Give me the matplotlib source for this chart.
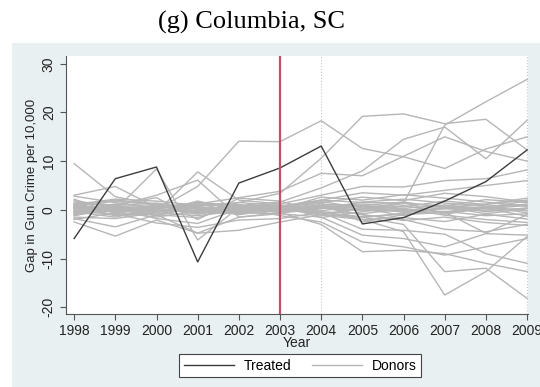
import matplotlib
matplotlib.use("Agg")
import matplotlib.pyplot as plt
from matplotlib.patches import Rectangle

plt.rcParams['font.family'] = ['Liberation Sans', 'DejaVu Sans']

years = list(range(1998, 2010))
treatment_year = 2003
dotted_years = [2004, 2009]

treated = [-5.9, 6.4, 8.8, -10.7, 5.5, 8.6, 13.1, -2.9, -1.6, 1.8, 5.8, 12.3]

# donor gaps
donors = [
    [0.5, -0.3, 0.8, -0.6, 0.2, 0.4, 0.9, 1.2, 0.6, 1.8, 1.1, 2.0],
    [-0.8, 0.4, -0.2, 0.3, -0.5, -0.1, -0.6, -1.4, -0.9, -0.3, -1.2, -0.8],
    [1.6, 0.9, 1.4, 0.2, 0.7, -0.3, 0.5, 0.0, 1.3, 0.8, 2.1, 1.5],
    [-1.5, -1.8, -0.6, -1.2, -0.2, 0.3, -1.1, -2.0, -1.6, -2.4, -0.9, -1.9],
    [0.2, 1.2, 0.6, 1.0, 0.9, 0.6, 1.7, 0.4, -0.5, 0.3, 0.6, -0.2],
    [2.8, 1.5, 0.3, -0.8, 0.4, -0.6, 0.2, 1.6, 2.2, 1.4, 0.8, 1.0],
    [-0.3, -0.9, 1.1, 0.5, -1.0, 0.2, 2.6, 2.0, 3.1, 2.4, 1.6, 0.7],
    [0.9, 0.1, -1.0, -1.6, 0.8, 1.0, -0.4, -0.8, 0.2, -1.1, -2.0, -2.6],
    [-2.0, -0.6, 0.2, 1.3, -0.6, -0.8, 1.2, 0.6, -0.3, 0.9, -0.4, 0.4],
    [1.1, 2.2, 1.8, 0.9, 1.5, 0.9, -1.6, -0.4, 0.9, -0.6, 0.3, -1.3],
    [0.0, -0.2, -0.4, -0.1, 0.1, 0.1, 0.4, -0.2, -0.2, 0.2, -0.1, 0.3],
    [-0.6, 0.7, 0.4, -0.9, 0.3, -0.4, -0.2, 0.9, 0.3, 1.0, 0.2, 0.9],
    [0.4, -1.2, -0.9, 0.7, -0.3, 0.2, 0.6, -1.0, -2.2, -1.5, -2.6, -3.2],
    [-1.1, 0.2, 0.9, 0.1, 0.6, -0.2, 1.5, 2.6, 1.9, 3.4, 2.7, 1.6],
    [1.9, 0.6, -0.5, 1.8, -0.1, 0.5, -0.9, 0.3, -1.2, 0.5, 1.2, 2.4],
    [-0.2, 0.5, 0.1, -0.4, -0.8, 0.0, 0.3, 0.8, 0.1, -0.4, 0.6, -0.6],
    [0.7, -0.5, -1.5, -0.2, 0.5, 0.7, -0.5, -1.6, -0.7, 0.6, -0.8, 0.2],
    [-0.9, -0.1, 0.5, 0.8, 1.1, -0.5, 0.8, 0.2, 1.5, -0.9, 0.4, 1.2],
    [9.5, 2.7, 1.0, -0.5, 0.4, -0.2, 0.6, 0.9, 1.6, 0.4, 0.5, 1.8],
    [3.0, 4.8, 0.5, 1.5, 0.9, 0.3, 2.0, 3.5, 3.0, 4.0, 5.0, 6.0],
    [-2.5, -5.4, -2.1, -4.8, -1.5, -0.8, -1.5, -5.2, -5.9, -7.6, -4.9, -5.2],
    [1.0, 0.0, 8.4, -6.2, 0.5, -1.2, -2.5, -6.6, -7.6, -9.3, -7.6, -5.9],
    [0.5, -1.0, -0.5, 7.8, 2.0, 1.2, 3.0, 4.8, 4.7, 6.0, 6.4, 8.2],
    [-0.5, 0.8, 3.0, 6.1, -1.5, -0.6, -3.0, -8.6, -8.3, -9.0, -11.0, -12.7],
    [2.2, -0.8, -2.7, -3.6, -2.1, -1.8, -0.5, -2.0, -4.5, -17.5, -12.7, -5.5],
    [-1.8, -3.5, -1.0, -4.8, -4.2, -2.5, -1.0, -1.5, -3.0, -12.7, -12.0, -18.2],
    [1.4, 1.0, 2.5, -2.0, 2.4, 1.8, -0.5, -4.0, -4.2, -5.0, -9.0, -11.0],
    [-1.2, 0.3, -1.8, -2.8, 0.2, 0.9, 0.5, -1.0, -2.0, -4.0, -4.5, -3.0],
    [0.8, 2.0, 1.2, 0.3, -0.9, 0.6, 1.4, -2.5, -1.0, -0.5, -4.8, -1.0],
    [0.3, 0.8, 0.0, 4.8, 14.1, 14.0, 18.3, 12.6, 10.9, 8.5, 12.5, 15.0],
    [1.2, -0.5, 0.8, -0.3, 1.5, 3.4, 10.6, 19.2, 19.7, 17.7, 18.6, 12.3],
    [-0.8, 0.4, -1.2, 0.6, -0.4, 0.8, 2.0, 1.5, 1.4, 17.4, 22.2, 26.8],
    [0.6, 1.8, 1.0, -0.5, 0.9, 1.6, 4.5, 8.0, 14.5, 17.0, 10.5, 18.4],
    [-0.4, -1.5, 0.3, 1.2, 2.5, 3.8, 7.5, 7.0, 11.0, 15.0, 12.0, 10.0],
]

fig = plt.figure(figsize=(5.4, 3.87), dpi=100)
fig.patch.set_facecolor('white')

# Stata-style light panel behind the graph
fig.patches.append(Rectangle((12 / 540, 0), 1, 1 - 43 / 387, transform=fig.transFigure,
                             facecolor='#e8f0f2', edgecolor='none', zorder=-5))

fig.text(252 / 540, 1 - 22 / 387, '(g) Columbia, SC', ha='center', va='center',
         fontsize=19, family=['Liberation Serif', 'DejaVu Serif'])

ax = fig.add_axes([65.5 / 540, 1 - 314 / 387, 462 / 540, 258 / 387])
ax.set_zorder(1)
ax.set_facecolor('white')

for d in donors:
    ax.plot(years, d, color='#b6b6b6', lw=1.0, zorder=2)
ax.plot(years, treated, color='#3c3c3c', lw=1.0, zorder=3)

ax.axvline(treatment_year, color='#c4506c', lw=1.6, zorder=4)
for yr in dotted_years:
    ax.axvline(yr, color='#c8c8c8', lw=0.8, ls=':', zorder=1)

ax.set_xlim(1997.79, 2009.01)
ax.set_ylim(-21.4, 31.6)
ax.set_xticks(years)
ax.set_yticks([-20, -10, 0, 10, 20, 30])
ax.set_yticklabels(['-20', '-10', '0', '10', '20', '30'], rotation=90, va='center')
ax.tick_params(axis='both', labelsize=10, length=4, width=0.8, pad=3,
               colors='#555555', labelcolor='#222222')

for s in ['top', 'right']:
    ax.spines[s].set_visible(False)
for s in ['left', 'bottom']:
    ax.spines[s].set_color('#555555')
    ax.spines[s].set_linewidth(0.8)

ax.set_xlabel('Year', fontsize=10, color='#222222', labelpad=-1)
ax.set_ylabel('Gap in Gun Crime per 10,000', fontsize=9.5, color='#222222', labelpad=3)

h1, = ax.plot([], [], color='#3c3c3c', lw=1.0)
h2, = ax.plot([], [], color='#b6b6b6', lw=1.0)
leg = fig.legend([h1, h2], ['Treated', 'Donors'], ncol=2, loc='center',
                 bbox_to_anchor=(300 / 540, 1 - 365.5 / 387), fontsize=10,
                 frameon=True, fancybox=False, handlelength=3.6, handletextpad=0.7,
                 columnspacing=1.5, borderpad=0.3)
leg.get_frame().set_edgecolor('#444444')
leg.get_frame().set_linewidth(0.8)
leg.get_frame().set_facecolor('white')
leg.get_frame().set_alpha(1.0)

fig.savefig('out.png', dpi=100)
